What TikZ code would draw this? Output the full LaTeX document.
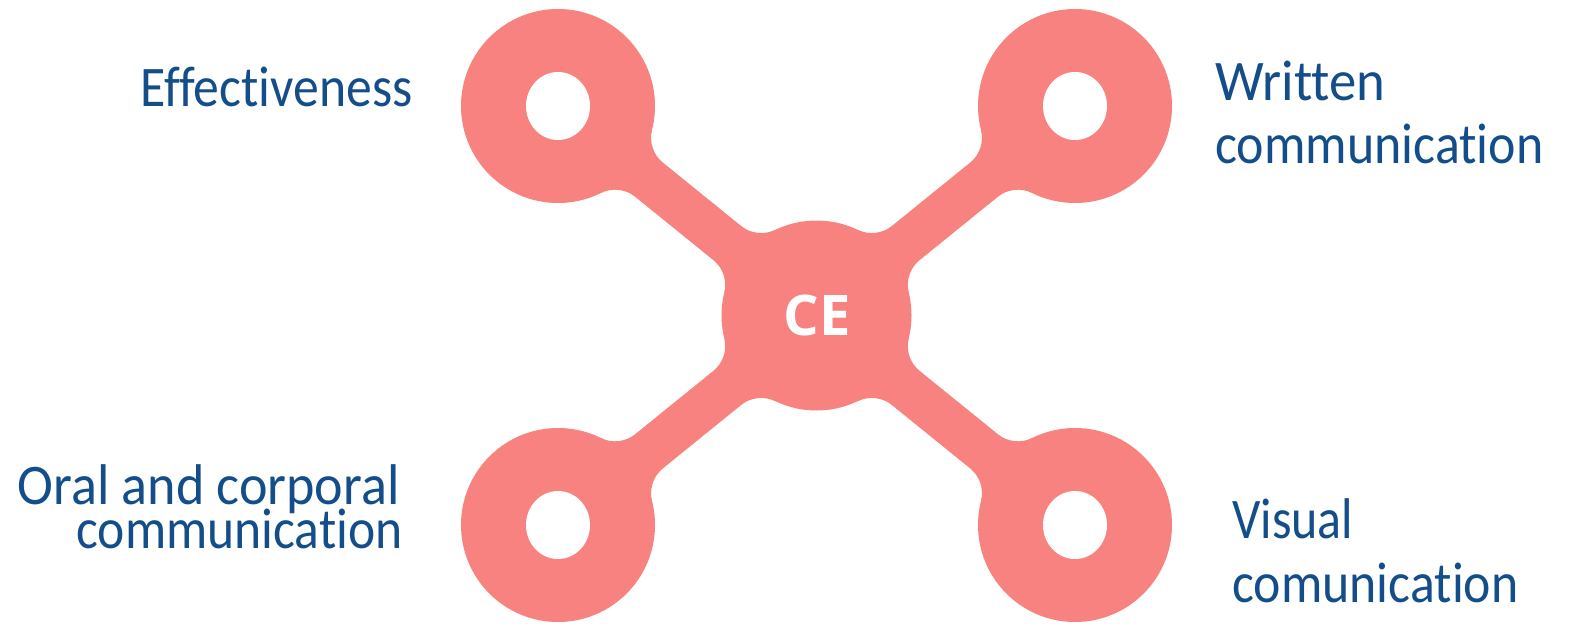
\documentclass[tikz,border=0pt]{standalone}
\usepackage{fontspec}
\setmainfont{Carlito}[Ligatures={NoCommon,NoContextual}]
\newfontfamily\cefont{Open Sans}
\usepackage{graphicx}
\definecolor{coral}{RGB}{247,130,127}
\definecolor{labelblue}{RGB}{20,78,138}
\newcommand{\fitlabel}[2]{\resizebox{#1}{\height}{#2}}
\begin{document}
\begin{tikzpicture}[x=0.5pt,y=0.5pt,
  outer/.style={circle,fill=coral,minimum size=97pt,inner sep=0pt},
  hub/.style={circle,fill=coral,minimum size=95pt,inner sep=0pt},
  lbl/.style={text=labelblue,inner sep=0pt,font=\fontsize{28.7}{34}\selectfont},
  arm/.pic={\fill[coral] (88.09,40.6) arc[start angle=204.75,end angle=270,radius=32]
     -- (217.75,22) arc[start angle=270,end angle=334.83,radius=32]
     -- (246.71,-40.39) arc[start angle=25.17,end angle=90,radius=32]
     -- (117.15,-22) arc[start angle=90,end angle=155.25,radius=32] -- cycle;}
]
\fill[white] (0,0) rectangle (1578,-626);
\useasboundingbox (0,0) rectangle (1578,-626);
% circles
\node[hub] (ce) at (816.5,-315.5) {};
\node[outer] (tl) at (558,-106) {};
\node[outer] (tr) at (1075,-106) {};
\node[outer] (bl) at (558,-525) {};
\node[outer] (br) at (1075,-525) {};
% arms
\path (tl.center) pic[rotate=-39] {arm};
\path (tr.center) pic[rotate=219] {arm};
\path (bl.center) pic[rotate=39] {arm};
\path (br.center) pic[rotate=141] {arm};
% holes
\fill[white] (tl.center) ellipse[x radius=32,y radius=34];
\fill[white] (tr.center) ellipse[x radius=32,y radius=34];
\fill[white] (bl.center) ellipse[x radius=32,y radius=34];
\fill[white] (br.center) ellipse[x radius=32,y radius=34];
% centre text
\node[text=white,inner sep=0pt,anchor=base,font=\cefont\bfseries\fontsize{28}{32}\selectfont] (cetext) at (817,-335) {CE};
% labels
\node[lbl,anchor=base east] (eff) at (413,-106) {\fitlabel{136pt}{Effectiveness}};
\node[lbl,anchor=base west] (wr1) at (1215,-100) {\fitlabel{85pt}{Written}};
\node[lbl,anchor=base west] (wr2) at (1215,-163) {\fitlabel{164pt}{communication}};
\node[lbl,anchor=base east] (or1) at (400,-504) {\fitlabel{191pt}{Oral and corporal}};
\node[lbl,anchor=base east] (or2) at (403,-548) {\fitlabel{163pt}{communication}};
\node[lbl,anchor=base west] (vi1) at (1232,-538) {\fitlabel{60.5pt}{Visual}};
\node[lbl,anchor=base west] (vi2) at (1232,-602) {\fitlabel{143pt}{comunication}};
\end{tikzpicture}
\end{document}
